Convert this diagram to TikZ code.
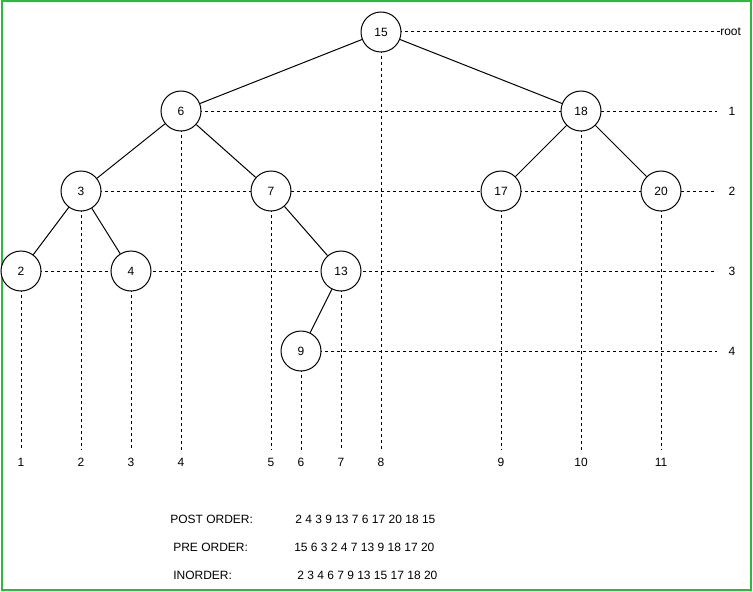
\documentclass[tikz,border=0pt]{standalone}
\usepackage{fontspec}
\setmainfont{Liberation Sans}
\definecolor{bordergreen}{RGB}{46,184,64}
\begin{document}
\begin{tikzpicture}[x=0.75pt,y=-0.75pt,
  every node/.style={font=\fontsize{9}{11}\selectfont},
  tnode/.style={circle,draw,line width=0.75pt,minimum size=30pt,inner sep=0pt,fill=white},
  dline/.style={line width=0.75pt,dash pattern=on 2.25pt off 2.25pt},
  edge/.style={line width=0.75pt},
  lbl/.style={inner sep=1pt}]
\fill[white] (0,0) rectangle (753,592);
\draw[bordergreen,line width=1.5pt] (2,1.5) rectangle (751,590);
% levels / end points
\coordinate (eR) at (720,32);
\coordinate (e1) at (717,111);
\coordinate (e2) at (717,191);
\coordinate (e3) at (717,271);
\coordinate (e4) at (717,351);
\foreach \i/\x in {1/21,2/81,3/131,4/181,5/271,6/301,7/341,8/381,9/501,10/581,11/661}{
  \coordinate (b\i) at (\x,450);
  \node[lbl] (n\i) at (\x,462) {\i};
}
% dashed lines first
\draw[dline] (381,32) -- (eR);
\draw[dline] (181,111) -- (e1);
\draw[dline] (81,191) -- (e2);
\draw[dline] (21,271) -- (e3);
\draw[dline] (301,351) -- (e4);
\draw[dline] (21,271) -- (b1);
\draw[dline] (81,191) -- (b2);
\draw[dline] (131,271) -- (b3);
\draw[dline] (181,111) -- (b4);
\draw[dline] (271,191) -- (b5);
\draw[dline] (301,351) -- (b6);
\draw[dline] (341,271) -- (b7);
\draw[dline] (381,32) -- (b8);
\draw[dline] (501,191) -- (b9);
\draw[dline] (581,111) -- (b10);
\draw[dline] (661,191) -- (b11);
% nodes
\node[tnode] (t15) at (381,32) {15};
\node[tnode] (t6) at (181,111) {6};
\node[tnode] (t18) at (581,111) {18};
\node[tnode] (t3) at (81,191) {3};
\node[tnode] (t7) at (271,191) {7};
\node[tnode] (t17) at (501,191) {17};
\node[tnode] (t20) at (661,191) {20};
\node[tnode] (t2) at (21,271) {2};
\node[tnode] (t4) at (131,271) {4};
\node[tnode] (t13) at (341,271) {13};
\node[tnode] (t9) at (301,351) {9};
% edges
\draw[edge] (t15) -- (t6);
\draw[edge] (t15) -- (t18);
\draw[edge] (t6) -- (t3);
\draw[edge] (t6) -- (t7);
\draw[edge] (t18) -- (t17);
\draw[edge] (t18) -- (t20);
\draw[edge] (t3) -- (t2);
\draw[edge] (t3) -- (t4);
\draw[edge] (t7) -- (t13);
\draw[edge] (t13) -- (t9);
% level labels
\node[lbl,anchor=west,inner sep=0pt] (lR) at (eR) {root};
\node[lbl] (l1) at (732,111) {1};
\node[lbl] (l2) at (732,191) {2};
\node[lbl] (l3) at (732,271) {3};
\node[lbl] (l4) at (732,351) {4};
% traversals
\node[anchor=west,inner sep=0pt] (po) at (170,519) {POST ORDER:};
\node[anchor=west,inner sep=0pt] (pov) at (295,519) {2 4 3 9 13 7 6 17 20 18 15};
\node[anchor=west,inner sep=0pt] (pr) at (173,547) {PRE ORDER:};
\node[anchor=west,inner sep=0pt] (prv) at (294,547) {15 6 3 2 4 7 13 9 18 17 20};
\node[anchor=west,inner sep=0pt] (in) at (173,575) {INORDER:};
\node[anchor=west,inner sep=0pt] (inv) at (297,575) {2 3 4 6 7 9 13 15 17 18 20};
\end{tikzpicture}
\end{document}
